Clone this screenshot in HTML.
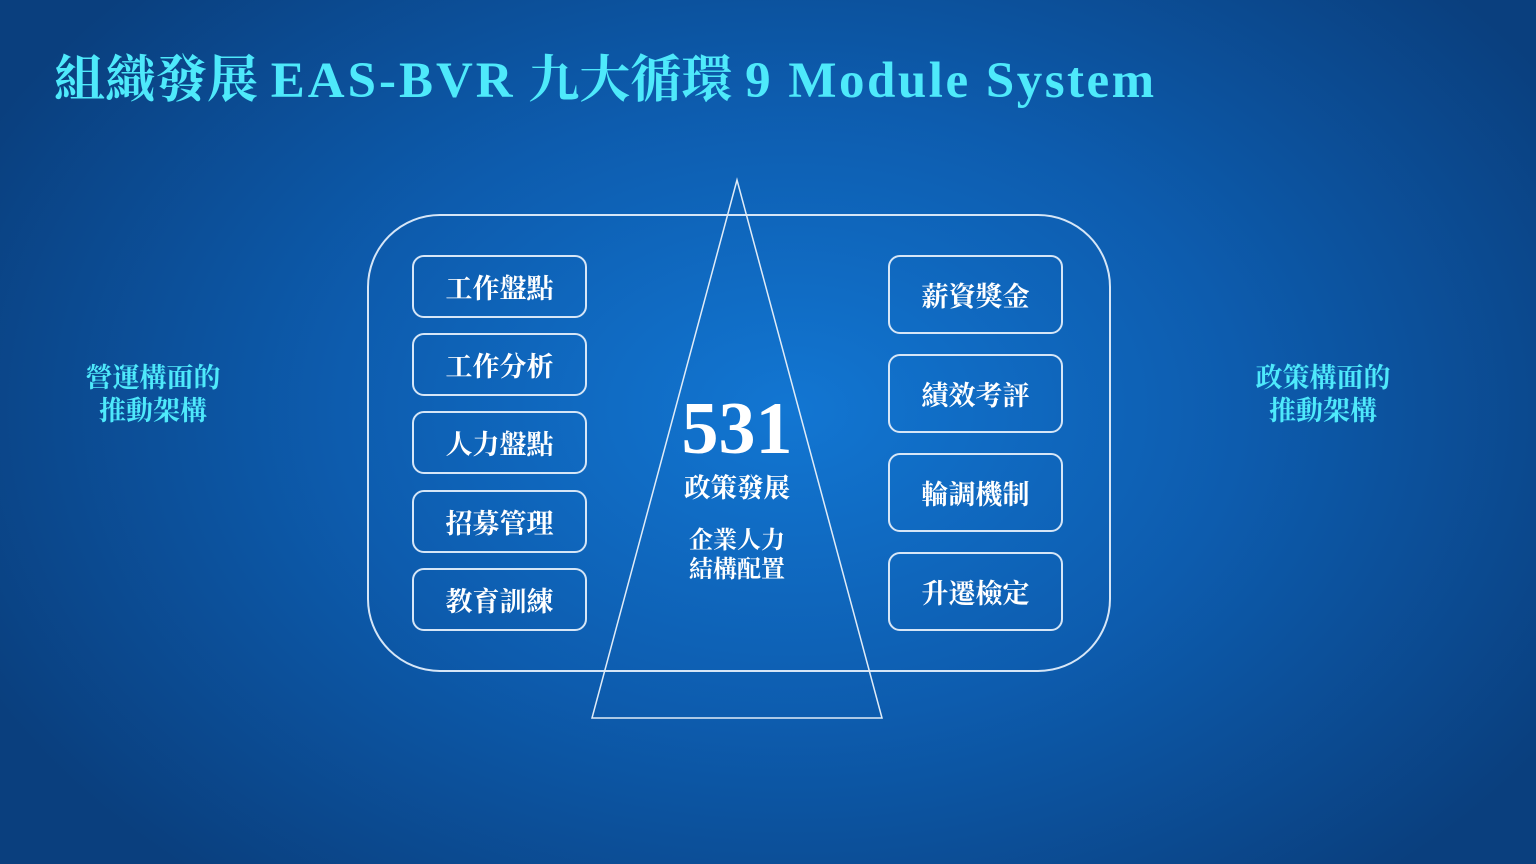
<!DOCTYPE html>
<html><head><meta charset="utf-8"><style>
body{margin:0;width:1536px;height:864px;overflow:hidden;position:relative;
background:radial-gradient(ellipse 900px 620px at 790px 410px,#1276d2 0%,#0d5cae 50%,#0a3f7e 100%);
font-family:"Liberation Serif","Noto Serif CJK SC","Noto Serif CJK TC",serif;}
.t{position:absolute;color:#4ee9fb;font-weight:bold;white-space:nowrap}
.b{position:absolute;width:175px;border:2px solid #d6e6f7;border-radius:12px;color:#fff;font-weight:bold;font-size:27px;display:flex;align-items:center;justify-content:center;box-sizing:border-box}
.c{position:absolute;color:#fff;font-weight:bold;text-align:center;white-space:nowrap}
</style></head><body>
<div class="t" style="left:54px;top:38px;font-size:51px;">組織發展 <span style="letter-spacing:3px">EAS-BVR</span> 九大循環 <span style="letter-spacing:2.5px">9 Module System</span></div>
<svg style="position:absolute;left:0;top:0" width="1536" height="864">
<rect x="368" y="215" width="742" height="456" rx="72" fill="none" stroke="#d6e6f7" stroke-width="2"/>
<polygon points="737,180 592,718 882,718" fill="none" stroke="#e0ecf8" stroke-width="1.5"/>
</svg>
<div class="b" style="left:412px;top:255px;height:63px">工作盤點</div>
<div class="b" style="left:412px;top:333px;height:63px">工作分析</div>
<div class="b" style="left:412px;top:411px;height:63px">人力盤點</div>
<div class="b" style="left:412px;top:490px;height:63px">招募管理</div>
<div class="b" style="left:412px;top:568px;height:63px">教育訓練</div>
<div class="b" style="left:888px;top:255px;height:79px">薪資獎金</div>
<div class="b" style="left:888px;top:354px;height:79px">績效考評</div>
<div class="b" style="left:888px;top:453px;height:79px">輪調機制</div>
<div class="b" style="left:888px;top:552px;height:79px">升遷檢定</div>
<div class="c" style="left:637px;width:200px;top:390px;font-size:74px;line-height:78px">531</div>
<div class="c" style="left:637px;width:200px;top:466px;font-size:26.5px">政策發展</div>
<div class="c" style="left:637px;width:200px;top:527px;font-size:24px;line-height:29px">企業人力<br>結構配置</div>
<div class="t" style="left:53px;width:200px;text-align:center;top:362px;font-size:27px;line-height:33px">營運構面的<br>推動架構</div>
<div class="t" style="left:1223px;width:200px;text-align:center;top:362px;font-size:27px;line-height:33px">政策構面的<br>推動架構</div>
</body></html>
